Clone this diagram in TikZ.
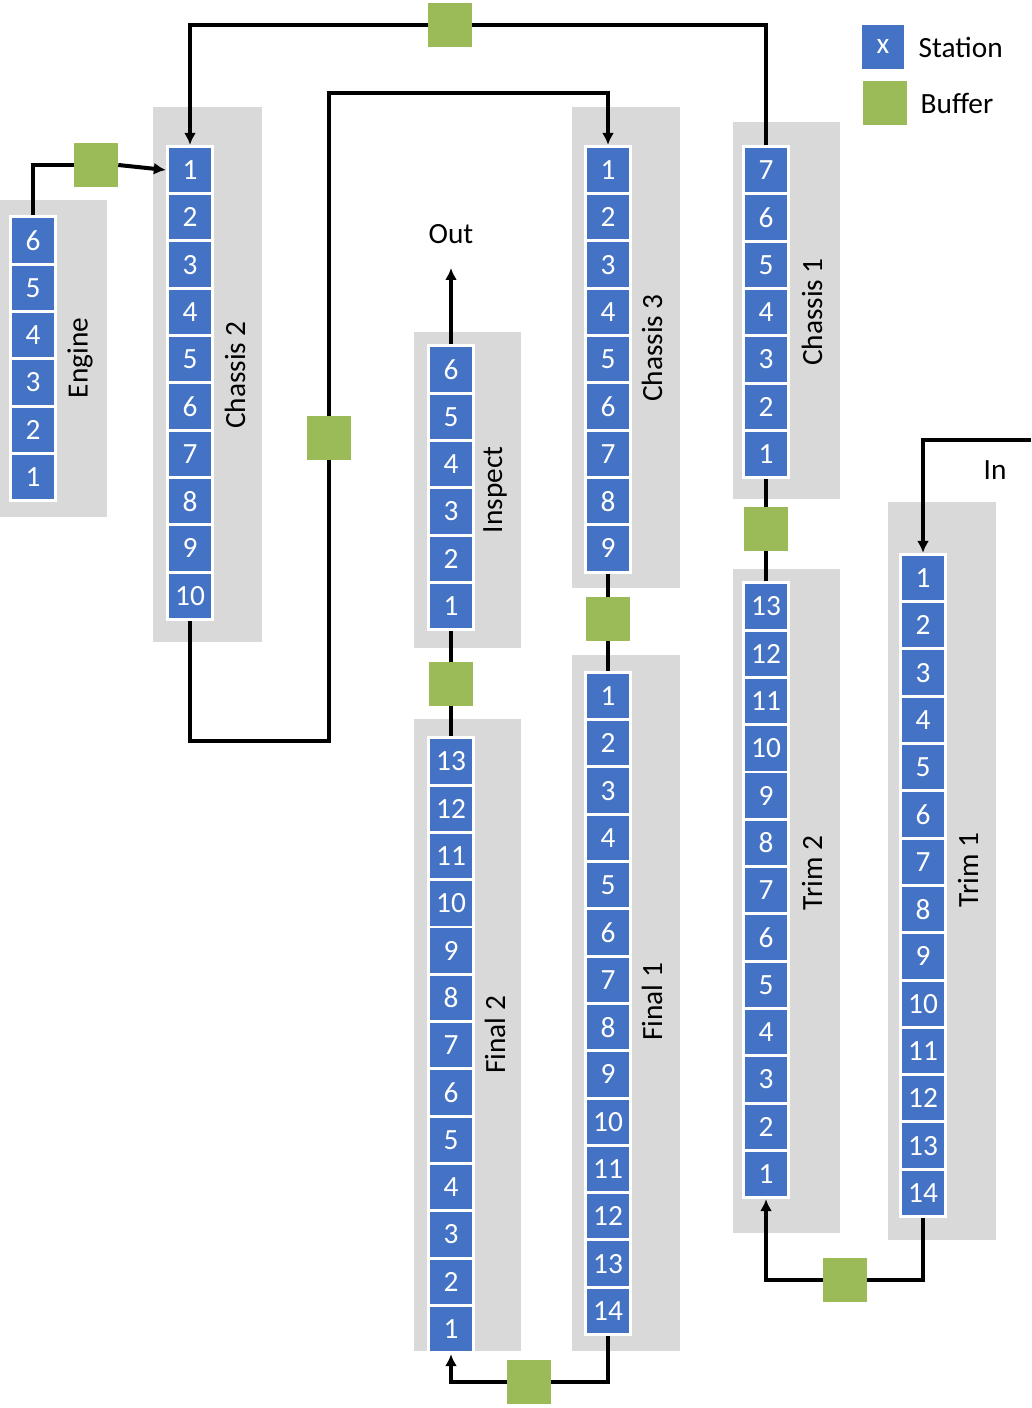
\documentclass[tikz,border=0pt]{standalone}
\usepackage{fontspec}
\setmainfont{Carlito}
\usetikzlibrary{arrows.meta}
\begin{document}
\begin{tikzpicture}[x=0.75pt, y=-0.75pt]
	\definecolor{bleu}{RGB}{68,114,196}
	\definecolor{vert}{RGB}{155,187,89}
	\definecolor{gris}{RGB}{217,217,217}
	\tikzset{poste/.style={rectangle, fill=bleu, draw=white, line width=2.2pt, minimum width=34pt, minimum height=35.5pt, inner sep=0pt, text=white, font=\fontsize{22}{22}\selectfont},
		tampon/.style={rectangle, fill=vert, minimum size=33pt, inner sep=0pt},
		ligne/.style={line width=3pt, black},
		fleche/.style={ligne, -{Latex[length=9pt,width=9pt]}},
		nom/.style={rotate=90, font=\fontsize{22}{22}\selectfont}};

	\useasboundingbox (0,0) rectangle (1031,1408);

	% zones grises
	\fill[gris] (  0, 200) rectangle (107, 517);
	\fill[gris] (153, 107) rectangle (262, 642);
	\fill[gris] (414, 332) rectangle (521, 648);
	\fill[gris] (414, 719) rectangle (521,1351);
	\fill[gris] (572, 107) rectangle (680, 588);
	\fill[gris] (572, 655) rectangle (680,1351);
	\fill[gris] (733, 122) rectangle (840, 499);
	\fill[gris] (733, 569) rectangle (840,1233);
	\fill[gris] (888, 502) rectangle (996,1240);

	% postes
	\foreach \i in {1,...,6}  \node[poste] (en\i) at ( 33,{477-47.3*(\i-1)}) {\i};
	\foreach \i in {1,...,10} \node[poste] (cb\i) at (190,{170+47.3*(\i-1)}) {\i};
	\foreach \i in {1,...,6}  \node[poste] (in\i) at (451,{606-47.3*(\i-1)}) {\i};
	\foreach \i in {1,...,13} \node[poste] (fb\i) at (451,{1329-47.3*(\i-1)}) {\i};
	\foreach \i in {1,...,9}  \node[poste] (cc\i) at (608,{170+47.3*(\i-1)}) {\i};
	\foreach \i in {1,...,14} \node[poste] (fa\i) at (608,{696+47.3*(\i-1)}) {\i};
	\foreach \i in {1,...,7}  \node[poste] (ca\i) at (766,{454-47.3*(\i-1)}) {\i};
	\foreach \i in {1,...,13} \node[poste] (tb\i) at (766,{1174-47.3*(\i-1)}) {\i};
	\foreach \i in {1,...,14} \node[poste] (ta\i) at (923,{578+47.3*(\i-1)}) {\i};

	\node[nom] (nen) at ( 80, 358) {Engine};
	\node[nom] (ncb) at (235, 375) {Chassis 2};
	\node[nom] (nin) at (495, 490) {Inspect};
	\node[nom] (nfb) at (495,1035) {Final 2};
	\node[nom] (ncc) at (652, 348) {Chassis 3};
	\node[nom] (nfa) at (652,1002) {Final 1};
	\node[nom] (nca) at (812, 312) {Chassis 1};
	\node[nom] (ntb) at (812, 873) {Trim 2};
	\node[nom] (nta) at (968, 870) {Trim 1};

	% tampons
	\node[tampon] (t1) at ( 96, 165) {};
	\node[tampon] (t2) at (450,  25) {};
	\node[tampon] (t3) at (329, 438) {};
	\node[tampon] (t4) at (451, 684) {};
	\node[tampon] (t5) at (608, 619) {};
	\node[tampon] (t6) at (766, 529) {};
	\node[tampon] (t7) at (845,1280) {};
	\node[tampon] (t8) at (529,1382) {};

	% legende
	\node[poste] (lp) at (883, 47) {x};
	\node[tampon] (lt) at (885,103) {};
	\node[anchor=west, font=\fontsize{22}{22}\selectfont] (lps) at (914, 47) {Station};
	\node[anchor=west, font=\fontsize{22}{22}\selectfont] (lts) at (916,103) {Buffer};

	\coordinate (k1) at (329,741);
	\coordinate (k2) at (608, 93);
	\coordinate (sortie) at (451,268);
	\coordinate (entree) at (1031,440);
	\node[font=\fontsize{22}{22}\selectfont] (out) at (451,234) {Out};
	\node[font=\fontsize{22}{22}\selectfont] (inn) at (995,470) {In};

	\draw[ligne] (en6.north) |- (t1.west);
	\draw[fleche] (t1.east) -- (cb1.west);
	\draw[ligne] (ca7.north) |- (t2.east);
	\draw[fleche] (t2.west) -| (cb1.north);
	\draw[ligne] (cb10.south) |- (k1) -- (t3.south);
	\draw[fleche] (t3.north) |- (k2) -- (cc1.north);
	\draw[ligne] (cc9.south) -- (t5.north);
	\draw[ligne] (t5.south) -- (fa1.north);
	\draw[ligne] (fa14.south) |- (t8.east);
	\draw[fleche] (t8.west) -| (fb1.south);
	\draw[ligne] (fb13.north) -- (t4.south);
	\draw[ligne] (t4.north) -- (in1.south);
	\draw[fleche] (in6.north) -- (sortie);
	\draw[fleche] (entree) -| (ta1.north);
	\draw[ligne] (ta14.south) |- (t7.east);
	\draw[fleche] (t7.west) -| (tb1.south);
	\draw[ligne] (tb13.north) -- (t6.south);
	\draw[ligne] (t6.north) -- (ca1.south);
\end{tikzpicture}
\end{document}
